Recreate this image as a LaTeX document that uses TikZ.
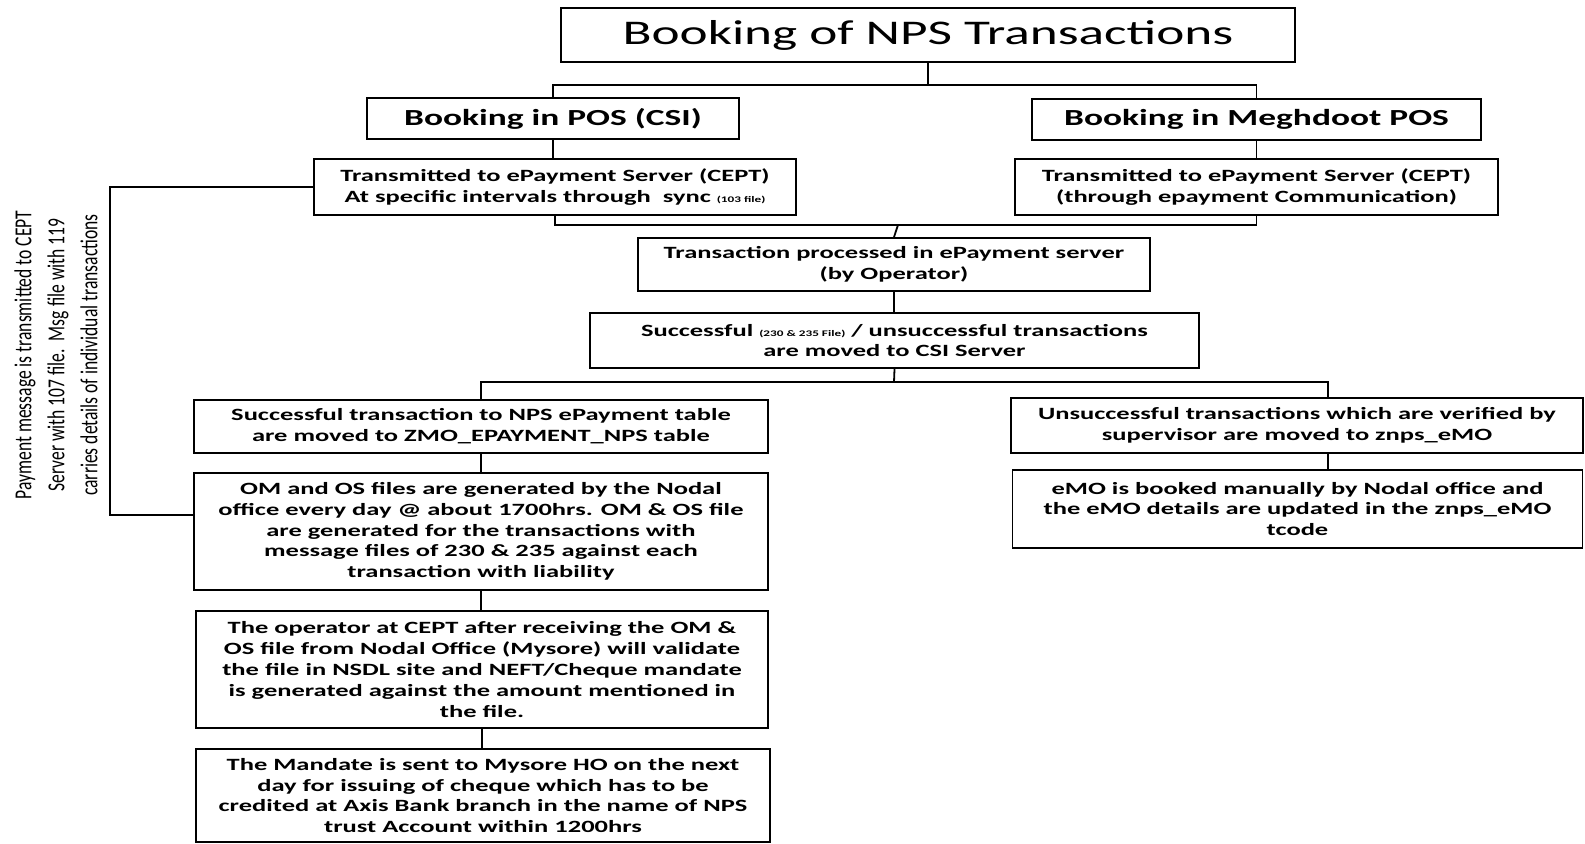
\documentclass[tikz,border=0pt]{standalone}
\usepackage{fontspec}
\setmainfont{Carlito}[FakeStretch=1.54]
\newfontfamily\sidefont{Carlito}[FakeStretch=0.72]
\newcommand{\filenote}[1]{{\fontsize{4.3}{5}\selectfont #1}}
\tikzset{
	box/.style={draw, line width=0.9pt, align=center, inner sep=0pt,
		font=\bfseries\fontsize{8.6}{10.4}\selectfont},
	headbox/.style={box, font=\bfseries\fontsize{11.5}{13}\selectfont},
	link/.style={line width=0.9pt},
}
\begin{document}
\begin{tikzpicture}[x=0.5pt, y=-0.5pt]
	\useasboundingbox (0,0) rectangle (1585,844);
	% Kopf
	\node[box, font=\fontsize{17.3}{20}\selectfont, minimum width=367pt,
	minimum height=27pt] (title) at (928,35) {Booking of NPS Transactions};
	\node[headbox, minimum width=186pt, minimum height=20.5pt] (posCSI) at
	(553,118.5) {Booking in POS (CSI)};
	\node[headbox, minimum width=224.5pt, minimum height=20.5pt] (meghdoot) at
	(1256.5,119.5) {Booking in Meghdoot POS};
	% Uebertragung
	\node[box, minimum width=241pt, minimum height=28pt] (transCSI) at (555,187)
	{Transmitted to ePayment Server (CEPT)\\ At specific intervals through\ \
	sync \filenote{(103 file)}};
	\node[box, minimum width=241.5pt, minimum height=28pt] (transMeg) at
	(1256.5,187) {Transmitted to ePayment Server (CEPT)\\ (through epayment
	Communication)};
	\node[box, minimum width=256pt, minimum height=26.5pt] (processed) at
	(894,264.5) {Transaction processed in ePayment server\\ (by Operator)};
	\node[box, minimum width=304.5pt, minimum height=27.5pt] (moved) at
	(894.5,340.5) {Successful \filenote{(230 \& 235 File)} / unsuccessful
	transactions\\ are moved to CSI Server};
	% linker Zweig
	\node[box, minimum width=287pt, minimum height=26.5pt] (succ) at
	(481,426.5) {Successful transaction to NPS ePayment table\\ are moved to
	ZMO\_EPAYMENT\_NPS table};
	\node[box, minimum width=287pt, minimum height=58.5pt] (omos) at
	(481,531.5) {OM and OS files are generated by the Nodal\\ office every day
	@ about 1700hrs. OM \& OS file\\ are generated for the transactions with\\
	message files of 230 \& 235 against each\\ transaction with liability};
	\node[box, minimum width=286pt, minimum height=58.5pt] (operator) at
	(482,669.5) {The operator at CEPT after receiving the OM \&\\ OS file from
	Nodal Office (Mysore) will validate\\ the file in NSDL site and NEFT/Cheque
	mandate\\ is generated against the amount mentioned in\\ the file.};
	\node[box, minimum width=287pt, minimum height=46.5pt] (mandate) at
	(483,795.5) {The Mandate is sent to Mysore HO on the next\\ day for issuing
	of cheque which has to be\\ credited at Axis Bank branch in the name of
	NPS\\ trust Account within 1200hrs};
	% rechter Zweig
	\node[box, minimum width=286pt, minimum height=27.5pt] (unsucc) at
	(1297,425.5) {Unsuccessful transactions which are verified by\\ supervisor
	are moved to znps\_eMO};
	\node[box, minimum width=285pt, minimum height=39pt] (emo) at (1297.5,509)
	{eMO is booked manually by Nodal office and\\ the eMO details are updated
	in the znps\_eMO\\ tcode};
	% Randnotiz
	\node[rotate=90, align=center, font=\sidefont\fontsize{12.2}{16.5}\selectfont]
	(note) at (56,355) {Payment message is transmitted to CEPT\\ Server with
	107 file.\ \ Msg file with 119\\ carries details of individual
	transactions};

	% Verbindungen
	\coordinate (topsplit) at (928,85);
	\coordinate (midsplit) at (898,225);
	\coordinate (lowsplit) at (894,382);
	\coordinate (unsuccjoin) at (1328,382);
	\coordinate (notebot) at (110,515);
	\draw[link] (title.south) -- (topsplit);
	\draw[link] (posCSI.north) |- (topsplit) -| (meghdoot.north);
	\draw[link] (posCSI.south) -- (posCSI.south |- transCSI.north);
	\draw[link] (meghdoot.south) -- (meghdoot.south |- transMeg.north);
	\draw[link] (transCSI.south) |- (midsplit) -| (transMeg.south);
	\draw[link] (midsplit) -- (processed.north);
	\draw[link] (processed.south) -- (processed.south |- moved.north);
	\draw[link] (moved.south) -- (lowsplit);
	\draw[link] (succ.north) |- (unsuccjoin) -- (unsuccjoin |- unsucc.north);
	\draw[link] (succ.south) -- (succ.south |- omos.north);
	\draw[link] (omos.south) -- (omos.south |- operator.north);
	\draw[link] (operator.south) -- (operator.south |- mandate.north);
	\draw[link] (unsuccjoin |- unsucc.south) -- (unsuccjoin |- emo.north);
	\draw[link] (transCSI.west) -| (notebot) -- (notebot -| omos.west);
\end{tikzpicture}
\end{document}
